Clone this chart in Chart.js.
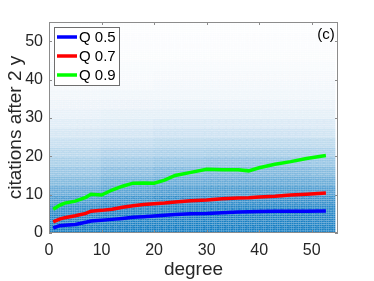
<!DOCTYPE html>
<html>
<head>
<meta charset="utf-8">
<script src="https://cdn.jsdelivr.net/npm/chart.js@4.4.0/dist/chart.umd.min.js"></script>
<style>
  html, body { margin: 0; padding: 0; background: #fff; }
</style>
</head>
<body>
<canvas id="graficoCitacoes" width="374" height="281"></canvas>
<script>
// Quantis de citações após 2 anos em função do grau
const graus = [0.8, 2, 3, 5, 7, 8, 10, 12, 14, 16, 18, 20, 22, 24, 27, 30, 33, 36, 38, 40, 43, 46, 49, 52.7];
const q50 = [1.3, 1.9, 2.0, 2.2, 2.8, 3.1, 3.3, 3.55, 3.8, 4.1, 4.25, 4.4, 4.6, 4.8, 5.0, 5.1, 5.3, 5.5, 5.55, 5.6, 5.65, 5.7, 5.7, 5.75];
const q70 = [2.9, 3.6, 4.0, 4.5, 5.1, 5.7, 5.9, 6.2, 6.7, 7.1, 7.4, 7.6, 7.8, 8.1, 8.4, 8.6, 8.9, 9.1, 9.2, 9.4, 9.6, 9.9, 10.1, 10.4];
const q90 = [6.2, 7.2, 7.8, 8.3, 9.3, 10.1, 9.9, 11.2, 12.2, 13.0, 13.05, 13.0, 13.8, 15.0, 15.8, 16.6, 16.5, 16.5, 16.2, 17.0, 17.9, 18.6, 19.4, 20.2];

// Densidade da nuvem de pontos (opacidade), lida da figura
// linhas: faixas de citações de 2.5 em 2.5; colunas: faixas de grau de 10 em 10
const faixasGrau = [0, 10, 20, 30, 40, 50];
const faixasCitacao = [0, 2.5, 5, 7.5, 10, 12.5, 15, 17.5, 20, 22.5, 25, 27.5, 30, 32.5, 35, 37.5, 40, 42.5, 45, 47.5, 50, 52.5];
const densidade = [
    [0.92, 0.92, 0.92, 0.92, 0.92, 0.90],
    [0.88, 0.90, 0.90, 0.90, 0.90, 0.88],
    [0.80, 0.85, 0.86, 0.86, 0.86, 0.84],
    [0.70, 0.76, 0.80, 0.80, 0.80, 0.78],
    [0.58, 0.64, 0.68, 0.69, 0.69, 0.67],
    [0.48, 0.54, 0.58, 0.59, 0.59, 0.57],
    [0.40, 0.45, 0.49, 0.50, 0.50, 0.48],
    [0.33, 0.37, 0.40, 0.41, 0.41, 0.40],
    [0.27, 0.30, 0.32, 0.33, 0.33, 0.32],
    [0.21, 0.23, 0.25, 0.26, 0.26, 0.25],
    [0.16, 0.17, 0.19, 0.19, 0.19, 0.18],
    [0.12, 0.13, 0.14, 0.14, 0.14, 0.14],
    [0.09, 0.10, 0.10, 0.10, 0.10, 0.10],
    [0.07, 0.075, 0.08, 0.08, 0.08, 0.08],
    [0.055, 0.06, 0.06, 0.06, 0.06, 0.06],
    [0.045, 0.045, 0.05, 0.05, 0.05, 0.05],
    [0.035, 0.035, 0.04, 0.04, 0.04, 0.04],
    [0.03, 0.03, 0.03, 0.03, 0.03, 0.03],
    [0.025, 0.025, 0.025, 0.025, 0.025, 0.025],
    [0.02, 0.02, 0.02, 0.02, 0.02, 0.02],
    [0.02, 0.02, 0.02, 0.02, 0.02, 0.02],
    [0.015, 0.015, 0.015, 0.015, 0.015, 0.015]
];
const grauMax = 54.5;

const ticksX = [0, 10, 20, 30, 40, 50];
const ticksY = [0, 10, 20, 30, 40, 50];
const rotulos = ["Q 0.5", "Q 0.7", "Q 0.9"];
const cores = ["#0000ff", "#ff0000", "#00ff00"];

const fonte = "'Liberation Sans', Arial, Helvetica, sans-serif";

function faixa(lista, v) {
    let i = 0;
    while (i + 1 < lista.length && v >= lista[i + 1]) i++;
    return i;
}

// nuvem: grade fina de (grau, citações), cor pela densidade da faixa
const nuvem = [];
const coresNuvem = [];
for (let i = 1; i <= grauMax * 3; i++) {
    const g = i / 3;
    for (let j = 0; j <= 110; j++) {
        const c = j / 2;
        const a = densidade[faixa(faixasCitacao, c)][faixa(faixasGrau, g)];
        nuvem.push({ x: g, y: c });
        coresNuvem.push(`rgba(0,114,189,${a})`);
    }
}

const serie = q => graus.map((g, i) => ({ x: g, y: q[i] }));

const decoracao = {
    id: 'decoracao',
    afterDraw(chart) {
        const { ctx, chartArea: a, scales: { x, y } } = chart;
        ctx.save();
        // caixa dos eixos
        ctx.strokeStyle = '#8c8c8c';
        ctx.lineWidth = 1;
        ctx.strokeRect(Math.round(a.left) + 0.5, Math.round(a.top) + 0.5,
            Math.round(a.right - a.left) - 1, Math.round(a.bottom - a.top) - 1);
        // marcas para dentro
        ctx.beginPath();
        ticksX.forEach(v => {
            const px = Math.round(x.getPixelForValue(v)) + 0.5;
            ctx.moveTo(px, a.bottom); ctx.lineTo(px, a.bottom - 3);
            ctx.moveTo(px, a.top); ctx.lineTo(px, a.top + 3);
        });
        ticksY.forEach(v => {
            const py = Math.round(y.getPixelForValue(v)) + 0.5;
            ctx.moveTo(a.left, py); ctx.lineTo(a.left + 3, py);
            ctx.moveTo(a.right, py); ctx.lineTo(a.right - 3, py);
        });
        ctx.stroke();

        // legenda
        const lx = a.left + 5, ly = a.top + 5;
        ctx.fillStyle = '#fff';
        ctx.fillRect(lx, ly, 65, 58);
        ctx.strokeStyle = '#6e6e6e';
        ctx.strokeRect(lx + 0.5, ly + 0.5, 65, 58);
        ctx.font = `15px ${fonte}`;
        ctx.textBaseline = 'middle';
        ctx.textAlign = 'left';
        rotulos.forEach((r, i) => {
            const yy = ly + 10 + i * 19;
            ctx.strokeStyle = cores[i];
            ctx.lineWidth = 3.5;
            ctx.beginPath();
            ctx.moveTo(lx + 3, yy); ctx.lineTo(lx + 23, yy);
            ctx.stroke();
            ctx.fillStyle = '#000';
            ctx.fillText(r, lx + 25, yy + 1);
        });

        // (c)
        ctx.font = `15px ${fonte}`;
        ctx.textAlign = 'center';
        ctx.fillStyle = '#000';
        ctx.fillText('(c)', a.right - 12, a.top + 13);

        // títulos dos eixos
        ctx.fillStyle = '#262626';
        ctx.font = `19px ${fonte}`;
        ctx.fillText('degree', (a.left + a.right) / 2, 270);
        ctx.translate(16, (a.top + a.bottom) / 2);
        ctx.rotate(-Math.PI / 2);
        ctx.fillText('citations after 2 y', 0, 0);
        ctx.restore();
    }
};

const ctx = document.getElementById('graficoCitacoes').getContext('2d');
new Chart(ctx, {
    type: 'scatter',
    data: {
        datasets: [
            { label: rotulos[0], data: serie(q50), showLine: true, borderColor: cores[0], borderWidth: 3.5, pointRadius: 0, tension: 0 },
            { label: rotulos[1], data: serie(q70), showLine: true, borderColor: cores[1], borderWidth: 3.5, pointRadius: 0, tension: 0 },
            { label: rotulos[2], data: serie(q90), showLine: true, borderColor: cores[2], borderWidth: 3.5, pointRadius: 0, tension: 0 },
            {
                label: 'dados', data: nuvem, pointStyle: 'rect', pointRadius: 1.25,
                pointBorderWidth: 0, borderWidth: 0, backgroundColor: coresNuvem, clip: 0
            }
        ]
    },
    options: {
        responsive: false,
        animation: false,
        events: [],
        layout: { padding: { left: 0, top: 22, right: 36, bottom: 0 } },
        plugins: {
            legend: { display: false },
            tooltip: { enabled: false }
        },
        scales: {
            x: {
                type: 'linear', min: 0, max: 55,
                grid: { display: false, drawTicks: false },
                border: { display: false },
                afterBuildTicks: s => { s.ticks = ticksX.map(v => ({ value: v })); },
                afterFit: s => { s.height = 48; },
                ticks: { padding: 8, color: '#262626', font: { family: fonte, size: 16 }, maxRotation: 0 }
            },
            y: {
                type: 'linear', min: 0, max: 55,
                grid: { display: false, drawTicks: false },
                border: { display: false },
                afterBuildTicks: s => { s.ticks = ticksY.map(v => ({ value: v })); },
                afterFit: s => { s.width = 49; },
                ticks: { padding: 6, color: '#262626', font: { family: fonte, size: 16 } }
            }
        }
    },
    plugins: [decoracao]
});
</script>
</body>
</html>
